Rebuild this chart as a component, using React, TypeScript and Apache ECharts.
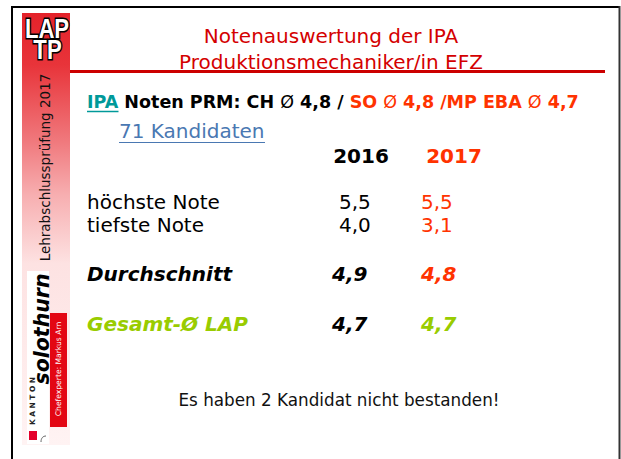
import React, { useEffect, useRef } from "react";
import * as echarts from "echarts";

const titleLines = ["Notenauswertung der IPA", "Produktionsmechaniker/in EFZ"];
const averageLabels = ["CH", "SO", "MP EBA"];
const averageValues = ["4,8", "4,8", "4,7"];
const candidateCount = 71;
const failedCount = 2;
const yearLabels = ["2016", "2017"];
const rowLabels = ["höchste Note", "tiefste Note", "Durchschnitt", "Gesamt-Ø LAP"];
const values2016 = ["5,5", "4,0", "4,9", "4,7"];
const values2017 = ["5,5", "3,1", "4,8", "4,7"];
const sideLabel = "Lehrabschlussprüfung 2017";
const expertLabel = "Chefexperte: Markus Arn";

const RED = "#d40000";
const ORANGE = "#ff3300";
const GREEN = "#99cc00";
const TEAL = "#009999";
const BLUE = "#4a78b2";
const FONT = '"DejaVu Sans", Verdana, sans-serif';

export default function App() {
  const ref = useRef<HTMLDivElement>(null);
  useEffect(() => {
    if (!ref.current) return;
    const chart = echarts.init(ref.current, null, { renderer: "svg" });
    const g: any[] = [];

    // slide frame
    g.push({ type: "line", shape: { x1: 11, y1: 7, x2: 620, y2: 7 }, style: { stroke: "#000", lineWidth: 2 } });
    g.push({ type: "line", shape: { x1: 12, y1: 6, x2: 12, y2: 459 }, style: { stroke: "#000", lineWidth: 2 } });
    g.push({ type: "line", shape: { x1: 619.5, y1: 6, x2: 619.5, y2: 459 }, style: { stroke: "#333", lineWidth: 2 } });

    // sidebar
    g.push({
      type: "rect",
      shape: { x: 22, y: 13, width: 48, height: 432 },
      style: {
        fill: new echarts.graphic.LinearGradient(0, 0, 0, 1, [
          { offset: 0, color: "#e4222a" },
          { offset: 0.12, color: "#e8343a" },
          { offset: 0.3, color: "#f07a7e" },
          { offset: 0.42, color: "#f7aeb0" },
          { offset: 0.58, color: "#fde2e2" },
          { offset: 1, color: "#fff3f3" },
        ]),
      },
    });
    g.push({ type: "rect", shape: { x: 27, y: 271, width: 22, height: 173 }, style: { fill: "#ffffff" } });
    g.push({
      type: "text", x: 47, y: 29, scaleX: 0.82,
      style: { text: "LAP", font: 'bold 27px "Liberation Sans", Arial, sans-serif', fill: "#fff", stroke: "#000", lineWidth: 3, align: "center", verticalAlign: "middle" },
    });
    g.push({
      type: "text", x: 47.5, y: 50, scaleX: 0.82,
      style: { text: "TP", font: 'bold 27px "Liberation Sans", Arial, sans-serif', fill: "#fff", stroke: "#000", lineWidth: 3, align: "center", verticalAlign: "middle" },
    });
    g.push({
      type: "text", x: 45, y: 167.5, rotation: Math.PI / 2,
      style: { text: sideLabel, font: `13.5px ${FONT}`, fill: "#111", align: "center", verticalAlign: "middle" },
    });
    g.push({
      type: "text", x: 42, y: 329, rotation: Math.PI / 2,
      style: { text: "solothurn", font: `italic bold 20.5px ${FONT}`, fill: "#000", align: "center", verticalAlign: "middle" },
    });
    g.push({
      type: "text", x: 32.5, y: 401, rotation: Math.PI / 2,
      style: { text: "K A N T O N", font: `bold 7.4px ${FONT}`, fill: "#222", align: "center", verticalAlign: "middle" },
    });
    g.push({ type: "rect", shape: { x: 29, y: 431, width: 8, height: 9 }, style: { fill: "#e4002b" } });
    g.push({
      type: "bezierCurve",
      shape: { x1: 41, y1: 442, x2: 46, y2: 436, cpx1: 41, cpy1: 438, cpx2: 43, cpy2: 436 },
      style: { stroke: "#666", lineWidth: 1, fill: "none" },
    });
    g.push({ type: "rect", shape: { x: 50, y: 313, width: 17, height: 114 }, style: { fill: "#e30613" } });
    g.push({
      type: "text", x: 58.5, y: 369, rotation: Math.PI / 2,
      style: { text: expertLabel, font: `7.6px ${FONT}`, fill: "#fff", align: "center", verticalAlign: "middle" },
    });

    // title
    titleLines.forEach((t, i) => {
      g.push({
        type: "text", x: 331, y: 36 + i * 26,
        style: { text: t, font: `20px ${FONT}`, fill: RED, align: "center", verticalAlign: "middle" },
      });
    });
    g.push({ type: "line", shape: { x1: 70, y1: 71.5, x2: 605, y2: 71.5 }, style: { stroke: "#cc0000", lineWidth: 3 } });

    // averages line
    const avgText =
      `{t|IPA}{b| Noten PRM: ${averageLabels[0]} }{bo|Ø}{b| ${averageValues[0]} / }` +
      `{r|${averageLabels[1]} }{ro|Ø}{r| ${averageValues[1]} /${averageLabels[2]} }{ro|Ø}{r| ${averageValues[2]}}`;
    const fs = 17.5;
    g.push({
      type: "text", x: 87, y: 102,
      style: {
        text: avgText, align: "left", verticalAlign: "middle",
        rich: {
          t: { font: `bold ${fs}px ${FONT}`, fill: TEAL },
          b: { font: `bold ${fs}px ${FONT}`, fill: "#000" },
          bo: { font: `${fs}px ${FONT}`, fill: "#000" },
          r: { font: `bold ${fs}px ${FONT}`, fill: ORANGE },
          ro: { font: `${fs}px ${FONT}`, fill: ORANGE },
        },
      },
    });
    g.push({ type: "line", shape: { x1: 87, y1: 111.5, x2: 118.5, y2: 111.5 }, style: { stroke: TEAL, lineWidth: 1.5 } });

    g.push({
      type: "text", x: 119, y: 131,
      style: { text: `${candidateCount} Kandidaten`, font: `20px ${FONT}`, fill: BLUE, align: "left", verticalAlign: "middle" },
    });
    g.push({ type: "line", shape: { x1: 119, y1: 142.5, x2: 265, y2: 142.5 }, style: { stroke: BLUE, lineWidth: 1 } });

    // table
    const colX = [361, 454];
    yearLabels.forEach((y, i) => {
      g.push({
        type: "text", x: colX[i], y: 156,
        style: { text: y, font: `bold 20px ${FONT}`, fill: i === 0 ? "#000" : ORANGE, align: "center", verticalAlign: "middle" },
      });
    });
    const rowY = [202, 225, 274, 324];
    rowLabels.forEach((label, i) => {
      const strong = i >= 2;
      const font = strong ? `italic bold 20px ${FONT}` : `20px ${FONT}`;
      const labelColor = i === 3 ? GREEN : "#000";
      const c2017 = i === 3 ? GREEN : ORANGE;
      g.push({ type: "text", x: 87, y: rowY[i], style: { text: label, font, fill: labelColor, align: "left", verticalAlign: "middle" } });
      g.push({ type: "text", x: strong ? 332 : 339, y: rowY[i], style: { text: values2016[i], font, fill: "#000", align: "left", verticalAlign: "middle" } });
      g.push({ type: "text", x: 421, y: rowY[i], style: { text: values2017[i], font, fill: c2017, align: "left", verticalAlign: "middle" } });
    });

    g.push({
      type: "text", x: 339, y: 400,
      style: { text: `Es haben ${failedCount} Kandidat nicht bestanden!`, font: `16.8px ${FONT}`, fill: "#111", align: "center", verticalAlign: "middle" },
    });

    chart.setOption({ animation: false, backgroundColor: "#ffffff", graphic: { elements: g } });
    return () => chart.dispose();
  }, []);
  return <div ref={ref} style={{ position: "fixed", left: 0, top: 0, width: 621, height: 459 }} />;
}
